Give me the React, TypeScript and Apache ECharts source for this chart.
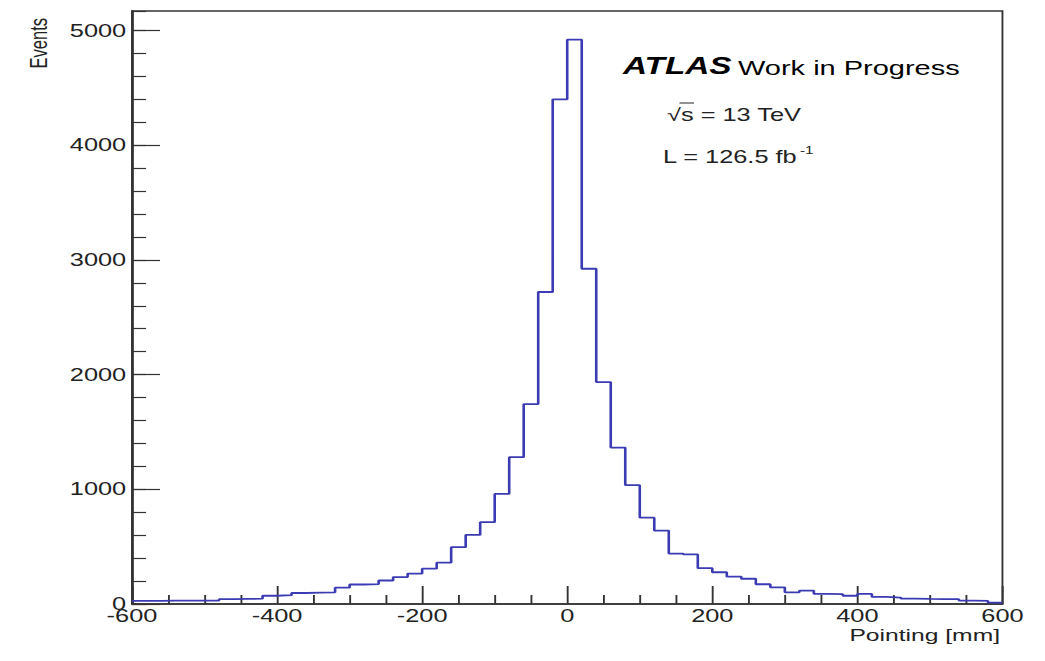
import { useEffect, useRef } from 'react';
import * as echarts from 'echarts';

// The chart is laid out in a narrower box and widened with a horizontal
// scale so that glyphs and strokes get the same wide look as the ROOT output.
const STRETCH = 1.45;
const PAGE_W = 1045;
const PAGE_H = 661;
const CHART_W = PAGE_W / STRETCH;

const FONT = '"Liberation Sans", Arial, Helvetica, sans-serif';
const INK = '#222';
const HIST_COLOR = '#3b3bb4';

// Histogram of the pointing variable: 60 bins of 20 mm from -600 to 600 mm.
const BIN_LOW_EDGE = -600;
const BIN_WIDTH = 20;
const countsNegative = [
  28, 28, 29, 29, 30, 30, 42, 44, 46, 72,
  77, 96, 99, 102, 142, 170, 174, 205, 235, 265,
  308, 360, 495, 602, 713, 960, 1280, 1743, 2720, 4400,
];
const countsPositive = [
  4920, 2923, 1935, 1364, 1036, 753, 640, 440, 432, 312,
  277, 238, 220, 172, 145, 102, 116, 88, 86, 72,
  88, 62, 56, 46, 44, 43, 42, 30, 28, 12,
];

const X_MIN = -600;
const X_MAX = 600;
const X_MAJOR = 200;
const Y_MAX = 5170;
const Y_MAJOR = 1000;
const Y_MINOR = 200;

const ATLAS_LABEL = 'ATLAS';
const STATUS_LABEL = 'Work in Progress';
const ENERGY_LABEL = '√s = 13 TeV';
const LUMI_LABEL = 'L = 126.5 fb';
const LUMI_UNIT_EXP = '-1';

// screen px -> unstretched chart px
const ux = (px: number) => px / STRETCH;

export default function App() {
  const ref = useRef<HTMLDivElement>(null);

  useEffect(() => {
    if (!ref.current) return;
    const chart = echarts.init(ref.current, undefined, { renderer: 'svg' });

    const counts = [...countsNegative, ...countsPositive];
    // step outline through the low edge of every bin, closed at the last high edge
    const outline: [number, number][] = counts.map((c, i) => [BIN_LOW_EDGE + i * BIN_WIDTH, c]);
    outline.push([BIN_LOW_EDGE + counts.length * BIN_WIDTH, counts[counts.length - 1]]);

    const gridLeft = ux(132);
    const gridRight = CHART_W - ux(1002);

    const yAxisBase = {
      type: 'value',
      min: 0,
      max: Y_MAX,
      position: 'left',
      axisLine: { show: true, onZero: false, lineStyle: { color: '#333', width: 1.3 } },
      splitLine: { show: false },
    };

    chart.setOption({
      animation: false,
      backgroundColor: '#fff',
      textStyle: { fontFamily: FONT },
      grid: {
        left: gridLeft,
        right: gridRight,
        top: 11,
        bottom: PAGE_H - 604,
        show: true,
        borderColor: '#333',
        borderWidth: 1.3,
        containLabel: false,
      },
      xAxis: {
        type: 'value',
        min: X_MIN,
        max: X_MAX,
        interval: X_MAJOR,
        axisLine: { show: true, onZero: false, lineStyle: { color: '#333', width: 1.5 } },
        axisTick: { show: true, inside: true, length: 18, lineStyle: { color: '#333', width: 1.3 } },
        minorTick: { show: true, splitNumber: 4, length: 9, lineStyle: { color: '#333', width: 1.3 } },
        splitLine: { show: false },
        axisLabel: {
          show: true,
          margin: 3,
          fontSize: 17.5,
          color: INK,
          fontFamily: FONT,
          formatter: (v: number) => String(v),
        },
      },
      yAxis: [
        {
          ...yAxisBase,
          interval: Y_MINOR,
          axisTick: { show: true, inside: true, length: 9.7, lineStyle: { color: '#333', width: 1.2 } },
          axisLabel: { show: false },
        },
        {
          ...yAxisBase,
          interval: Y_MAJOR,
          axisTick: { show: true, inside: true, length: 19.3, lineStyle: { color: '#333', width: 1.2 } },
          axisLabel: {
            show: true,
            margin: 4,
            fontSize: 17.5,
            color: INK,
            fontFamily: FONT,
            showMaxLabel: false,
            formatter: (v: number) => (v % Y_MAJOR === 0 ? String(v) : ''),
          },
        },
      ],
      series: [
        {
          type: 'line',
          yAxisIndex: 0,
          step: 'end',
          data: outline,
          showSymbol: false,
          symbol: 'none',
          lineStyle: { color: HIST_COLOR, width: 1.8 },
          clip: true,
          silent: true,
        },
      ],
      graphic: [
        {
          type: 'text',
          x: ux(38),
          y: 18,
          rotation: Math.PI / 2,
          style: { text: 'Events', fontSize: 16.5, fill: INK, align: 'right', verticalAlign: 'middle', fontFamily: FONT },
        },
        {
          type: 'text',
          x: ux(1000),
          y: 635,
          style: { text: 'Pointing [mm]', fontSize: 17, fill: INK, align: 'right', verticalAlign: 'middle', fontFamily: FONT },
        },
        {
          type: 'text',
          x: ux(623),
          y: 66,
          style: {
            text: ATLAS_LABEL, fontSize: 23, fontWeight: 'bold', fontStyle: 'italic',
            fill: '#000', align: 'left', verticalAlign: 'middle', fontFamily: FONT,
          },
        },
        {
          type: 'text',
          x: ux(738),
          y: 68,
          style: { text: STATUS_LABEL, fontSize: 20, fill: '#000', align: 'left', verticalAlign: 'middle', fontFamily: FONT },
        },
        {
          type: 'text',
          x: ux(667),
          y: 115,
          style: { text: ENERGY_LABEL, fontSize: 17.5, fill: INK, align: 'left', verticalAlign: 'middle', fontFamily: FONT },
        },
        {
          type: 'line',
          shape: { x1: ux(667) + 8.6, y1: 103, x2: ux(667) + 18.6, y2: 103 },
          style: { stroke: INK, lineWidth: 1 },
        },
        {
          type: 'text',
          x: ux(663),
          y: 157,
          style: { text: LUMI_LABEL, fontSize: 17.5, fill: INK, align: 'left', verticalAlign: 'middle', fontFamily: FONT },
        },
        {
          type: 'text',
          x: ux(800),
          y: 150,
          style: { text: LUMI_UNIT_EXP, fontSize: 10.5, fill: INK, align: 'left', verticalAlign: 'middle', fontFamily: FONT },
        },
      ],
    });

    return () => chart.dispose();
  }, []);

  return (
    <div
      style={{
        position: 'absolute',
        left: 0,
        top: 0,
        width: PAGE_W,
        height: PAGE_H,
        overflow: 'hidden',
        background: '#fff',
      }}
    >
      <div
        ref={ref}
        style={{
          width: CHART_W,
          height: PAGE_H,
          transform: `scaleX(${STRETCH})`,
          transformOrigin: '0 0',
        }}
      />
    </div>
  );
}
